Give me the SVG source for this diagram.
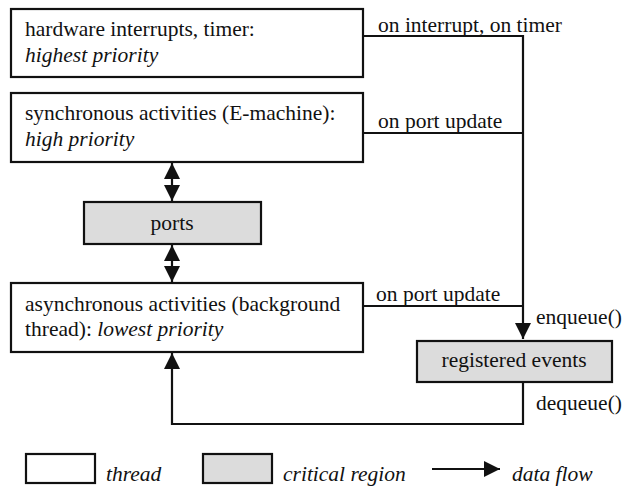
<svg xmlns="http://www.w3.org/2000/svg" width="624" height="487" viewBox="0 0 624 487">
  <style>
    text { font-size: 21.5px; fill: #111; }
    .it { font-style: italic; }
    .thread { fill: #fff; stroke: #111; stroke-width: 2.2; }
    .crit { fill: #dcdcdc; stroke: #111; stroke-width: 2.2; }
    .wire { fill: none; stroke: #111; stroke-width: 2.2; }
    .mid { text-anchor: middle; }
  </style>
  <defs>
    <marker id="head" viewBox="0 0 16 16" refX="16" refY="8" markerWidth="16" markerHeight="16" markerUnits="userSpaceOnUse" orient="auto-start-reverse">
      <path d="M0,0 L16,8 L0,16 Z" fill="#111"/>
    </marker>
  </defs>

  <rect width="624" height="487" fill="#fff"/>

  <g font-family="Liberation Serif, DejaVu Serif, serif">
  <g id="hw-interrupts">
    <rect class="thread" x="11" y="9" width="352" height="68"/>
    <text x="25" y="36">hardware interrupts, timer:</text>
    <text x="25" y="62" class="it">highest priority</text>
  </g>

  <g id="sync-activities">
    <rect class="thread" x="11" y="93" width="352" height="69"/>
    <text x="25" y="120">synchronous activities (E-machine):</text>
    <text x="25" y="146" class="it">high priority</text>
  </g>

  <g id="ports">
    <rect class="crit" x="84" y="202" width="177" height="42"/>
    <text x="172" y="230" class="mid">ports</text>
  </g>

  <g id="async-activities">
    <rect class="thread" x="11" y="283" width="352" height="69"/>
    <text x="25" y="311">asynchronous activities (background</text>
    <text x="25" y="336">thread): <tspan class="it">lowest priority</tspan></text>
  </g>

  <g id="registered-events">
    <rect class="crit" x="417" y="341" width="195" height="41"/>
    <text x="514" y="367" class="mid">registered events</text>
  </g>

  <g id="connectors">
    <!-- sync <-> ports, ports <-> async -->
    <line class="wire" x1="172" y1="163" x2="172" y2="201" marker-start="url(#head)" marker-end="url(#head)"/>
    <line class="wire" x1="172" y1="245" x2="172" y2="282" marker-start="url(#head)" marker-end="url(#head)"/>
    <!-- event sources feeding the event queue -->
    <polyline class="wire" points="363,36 523,36 523,339" marker-end="url(#head)"/>
    <line class="wire" x1="363" y1="133" x2="523" y2="133"/>
    <line class="wire" x1="363" y1="306" x2="523" y2="306"/>
    <!-- dequeue back to background thread -->
    <polyline class="wire" points="523,382 523,424 172,424 172,353" marker-end="url(#head)"/>
    <text x="378" y="32">on interrupt, on timer</text>
    <text x="378" y="128">on port update</text>
    <text x="376" y="301">on port update</text>
    <text x="536" y="324">enqueue()</text>
    <text x="536" y="410">dequeue()</text>
  </g>

  <g id="legend">
    <rect class="thread" x="26" y="454" width="69" height="29"/>
    <text x="106" y="481" class="it">thread</text>
    <rect class="crit" x="203" y="454" width="69" height="29"/>
    <text x="283" y="481" class="it">critical region</text>
    <line class="wire" x1="432" y1="469" x2="500" y2="469" marker-end="url(#head)"/>
    <text x="512" y="481" class="it">data flow</text>
  </g>
  </g>
</svg>
